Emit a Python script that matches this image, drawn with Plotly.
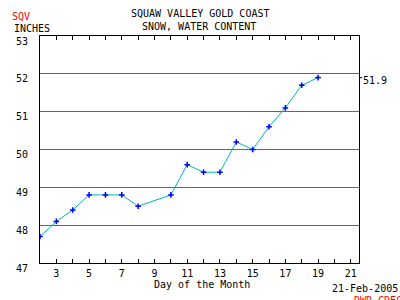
import plotly.graph_objects as go

days = [2, 3, 4, 5, 6, 7, 8, 10, 11, 12, 13, 14, 15, 16, 17, 18, 19]
swc = [47.7, 48.1, 48.4, 48.8, 48.8, 48.8, 48.5, 48.8, 49.6, 49.4, 49.4, 50.2, 50.0, 50.6, 51.1, 51.7, 51.9]
x_tick_vals = list(range(2, 22))
x_tick_text = [str(d) if d % 2 == 1 else "" for d in x_tick_vals]
y_tick_vals = [47, 48, 49, 50, 51, 52, 53]

W, H = 400, 300
L, R, T, B = 40, 41, 36, 37
PW, PH = W - L - R, H - T - B

def px(x, y):
    return (x - L) / PW, (H - B - y) / PH

FONT = "DejaVu Sans Mono"

fig = go.Figure()
fig.add_trace(go.Scatter(
    x=days, y=swc, mode="lines+markers",
    line=dict(color="#00B8B8", width=1),
    marker=dict(symbol="cross-thin", size=4, line=dict(color="#0000FF", width=1.5), color="#0000FF"),
    showlegend=False, hoverinfo="skip",
))

texts = [
    ("SQUAW VALLEY GOLD COAST", 200, 13, "center", "middle", "black"),
    ("SNOW, WATER CONTENT", 199, 27, "center", "middle", "black"),
    ("SQV", 10, 16.5, "left", "middle", "red"),
    ("INCHES", 12, 29, "left", "middle", "black"),
    ("Day of the Month", 202, 284.5, "center", "middle", "black"),
    ("21-Feb-2005", 400, 288, "right", "middle", "black"),
    ("DWR-CDEC", 352, 293, "left", "top", "red"),
]
anns = []
for t, x, y, xa, ya, c in texts:
    xp, yp = px(x, y)
    anns.append(dict(text=t, x=xp, y=yp, xref="paper", yref="paper", xanchor=xa, yanchor=ya,
                     showarrow=False, font=dict(family=FONT, size=10, color=c)))
# last value label at right
anns.append(dict(text=f"{swc[-1]}", x=1.005, y=swc[-1], xref="paper", yref="y", xanchor="left",
                 yanchor="middle", yshift=-3, showarrow=False, font=dict(family=FONT, size=10, color="black")))

fig.update_layout(
    width=W, height=H, margin=dict(l=L, r=R, t=T, b=B),
    paper_bgcolor="white", plot_bgcolor="white",
    font=dict(family=FONT, size=10, color="black"),
    annotations=anns,
    shapes=[dict(type="line", xref="paper", yref="y", x0=1, x1=1.01, y0=swc[-1], y1=swc[-1],
                 line=dict(color="black", width=1))],
    xaxis=dict(range=[2, 21.5], tickvals=x_tick_vals, ticktext=x_tick_text, ticks="inside", ticklen=4,
               tickcolor="black", showgrid=False, zeroline=False, showline=True, linecolor="black",
               linewidth=1, mirror="ticks", ticklabelstandoff=1),
    yaxis=dict(range=[47, 53], tickvals=y_tick_vals, ticks="", showgrid=True, gridcolor="#666666",
               gridwidth=1, zeroline=False, showline=True, linecolor="black", linewidth=1, mirror=True,
               ticklabelstandoff=9, ticklabelshift=5),
)
fig.write_html("out.html")
